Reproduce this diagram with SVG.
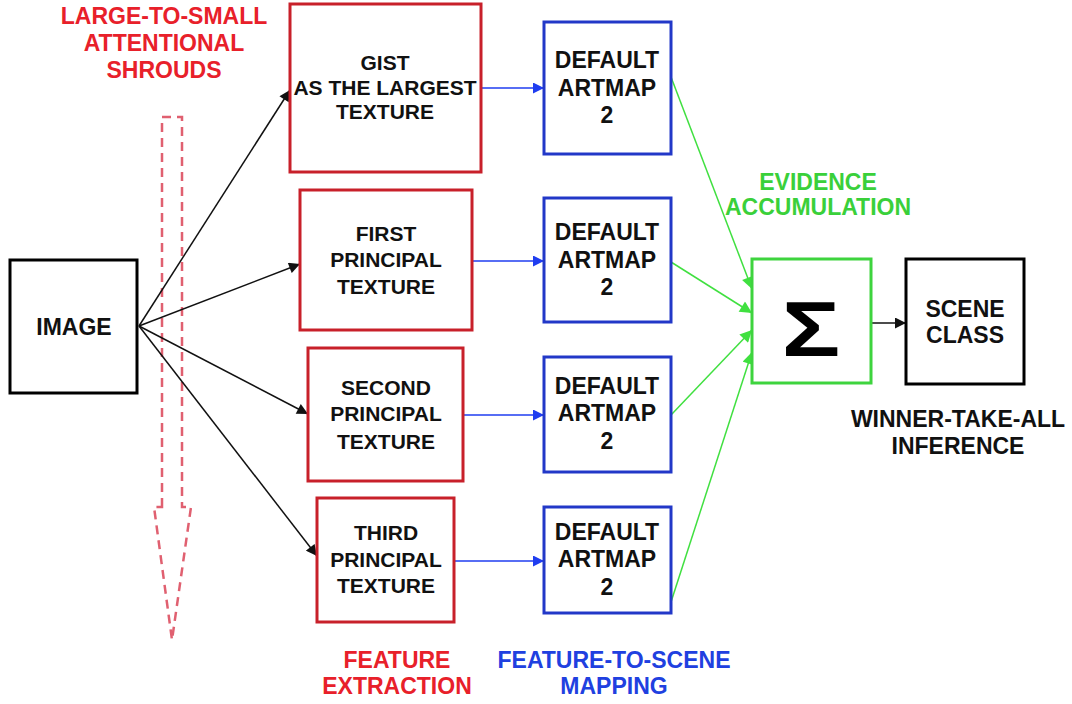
<svg xmlns="http://www.w3.org/2000/svg" width="1072" height="704" viewBox="0 0 1072 704">
<defs>
<style>
text{font-family:"Liberation Sans",Arial,sans-serif;font-weight:bold;text-anchor:middle}
.t{font-size:21px;fill:#111}
.tb{font-size:23px;fill:#111}
.lbl{font-size:23px}
.red{stroke:#c8202a;stroke-width:3;fill:#fff}
.blue{stroke:#2238c8;stroke-width:3;fill:#fff}
.blk{stroke:#000;stroke-width:3;fill:#fff}
.grn{stroke:#3ed43e;stroke-width:3;fill:#fff}
.ck{stroke:#111;stroke-width:1.5;fill:none}
.cb{stroke:#1f3df0;stroke-width:1.5;fill:none}
.cg{stroke:#40e040;stroke-width:1.5;fill:none}
</style>
<marker id="ak" viewBox="0 0 10 10" refX="10" refY="5" markerWidth="12" markerHeight="11" markerUnits="userSpaceOnUse" orient="auto"><path d="M0,0 L10,5 L0,10 z" fill="#111"/></marker>
<marker id="ab" viewBox="0 0 10 10" refX="10" refY="5" markerWidth="12" markerHeight="11" markerUnits="userSpaceOnUse" orient="auto"><path d="M0,0 L10,5 L0,10 z" fill="#1f3df0"/></marker>
<marker id="ag" viewBox="0 0 10 10" refX="10" refY="5" markerWidth="13" markerHeight="12" markerUnits="userSpaceOnUse" orient="auto"><path d="M0,0 L10,5 L0,10 z" fill="#40e040"/></marker>
</defs>
<rect width="1072" height="704" fill="#fff"/>

<g id="shroud">
<path d="M162,507 L162,117 L182,117 L182,507 L191,507 L172,640 L154,507 Z" fill="none" stroke="#e06070" stroke-width="2.5" stroke-dasharray="9,6"/>
</g>
<g id="labels">
<text class="lbl" x="164" y="24" fill="#e8202a">LARGE-TO-SMALL</text>
<text class="lbl" x="164" y="51" fill="#e8202a">ATTENTIONAL</text>
<text class="lbl" x="164" y="78" fill="#e8202a">SHROUDS</text>
<text class="lbl" x="818" y="190" fill="#3ad03a">EVIDENCE</text>
<text class="lbl" x="818" y="215" fill="#3ad03a">ACCUMULATION</text>
<text class="lbl" x="958" y="427" fill="#111">WINNER-TAKE-ALL</text>
<text class="lbl" x="958" y="454" fill="#111">INFERENCE</text>
<text class="lbl" x="397" y="668" fill="#e8202a">FEATURE</text>
<text class="lbl" x="397" y="694" fill="#e8202a">EXTRACTION</text>
<text class="lbl" x="614" y="668" fill="#2040e0">FEATURE-TO-SCENE</text>
<text class="lbl" x="614" y="694" fill="#2040e0">MAPPING</text>
</g>

<g id="connectors">
<line class="ck" x1="139" y1="326" x2="290" y2="90" marker-end="url(#ak)"/>
<line class="ck" x1="139" y1="326" x2="300" y2="264" marker-end="url(#ak)"/>
<line class="ck" x1="139" y1="326" x2="308" y2="414" marker-end="url(#ak)"/>
<line class="ck" x1="139" y1="326" x2="317" y2="556" marker-end="url(#ak)"/>
<line class="cb" x1="481" y1="88" x2="544" y2="88" marker-end="url(#ab)"/>
<line class="cb" x1="472" y1="261" x2="544" y2="261" marker-end="url(#ab)"/>
<line class="cb" x1="463" y1="415" x2="544" y2="415" marker-end="url(#ab)"/>
<line class="cb" x1="454" y1="561" x2="544" y2="561" marker-end="url(#ab)"/>
<line class="cg" x1="671" y1="77" x2="752" y2="289" marker-end="url(#ag)"/>
<line class="cg" x1="671" y1="262" x2="752" y2="313" marker-end="url(#ag)"/>
<line class="cg" x1="671" y1="415" x2="752" y2="330" marker-end="url(#ag)"/>
<line class="cg" x1="671" y1="602" x2="752" y2="352" marker-end="url(#ag)"/>
<line class="ck" x1="871" y1="323" x2="906" y2="323" stroke-width="2" marker-end="url(#ak)"/>
</g>

<g id="image">
<rect class="blk" x="10" y="260" width="127" height="133"/>
<text class="tb" x="74" y="335">IMAGE</text>
</g>

<g id="gist">
<rect class="red" x="290" y="4" width="191" height="168"/>
<text class="t" x="385" y="70">GIST</text>
<text class="t" x="385" y="95">AS THE LARGEST</text>
<text class="t" x="385" y="119">TEXTURE</text>
</g>
<g id="first">
<rect class="red" x="300" y="190" width="172" height="140"/>
<text class="t" x="386" y="241">FIRST</text>
<text class="t" x="386" y="267">PRINCIPAL</text>
<text class="t" x="386" y="294">TEXTURE</text>
</g>
<g id="second">
<rect class="red" x="308" y="348" width="155" height="133"/>
<text class="t" x="386" y="395">SECOND</text>
<text class="t" x="386" y="421">PRINCIPAL</text>
<text class="t" x="386" y="449">TEXTURE</text>
</g>
<g id="third">
<rect class="red" x="317" y="498" width="137" height="124"/>
<text class="t" x="386" y="540">THIRD</text>
<text class="t" x="386" y="567">PRINCIPAL</text>
<text class="t" x="386" y="593">TEXTURE</text>
</g>

<g id="artmap1">
<rect class="blue" x="544" y="22" width="127" height="132"/>
<text class="tb" x="607" y="68">DEFAULT</text>
<text class="tb" x="607" y="96">ARTMAP</text>
<text class="tb" x="607" y="123">2</text>
</g>
<g id="artmap2">
<rect class="blue" x="544" y="198" width="127" height="124"/>
<text class="tb" x="607" y="240">DEFAULT</text>
<text class="tb" x="607" y="268">ARTMAP</text>
<text class="tb" x="607" y="295">2</text>
</g>
<g id="artmap3">
<rect class="blue" x="544" y="357" width="127" height="115"/>
<text class="tb" x="607" y="394">DEFAULT</text>
<text class="tb" x="607" y="421">ARTMAP</text>
<text class="tb" x="607" y="449">2</text>
</g>
<g id="artmap4">
<rect class="blue" x="544" y="507" width="127" height="106"/>
<text class="tb" x="607" y="540">DEFAULT</text>
<text class="tb" x="607" y="567">ARTMAP</text>
<text class="tb" x="607" y="595">2</text>
</g>

<g id="sigma">
<rect class="grn" x="752" y="259" width="119" height="124"/>
<text x="0" y="0" transform="translate(811,356) scale(1.25,1)" style="font-size:78px;fill:#000">Σ</text>
</g>
<g id="scene">
<rect class="blk" x="906" y="259" width="118" height="125"/>
<text x="965" y="317" style="font-size:23px;fill:#111">SCENE</text>
<text x="965" y="343" style="font-size:23px;fill:#111">CLASS</text>
</g>
</svg>
